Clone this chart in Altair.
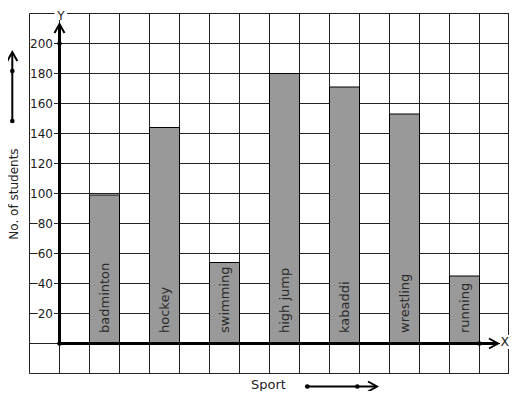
import altair as alt
import pandas as pd

# ---------------- data ----------------
sports = ["badminton", "hockey", "swimming", "high jump", "kabaddi", "wrestling", "running"]
students = [99, 144, 54, 180, 171, 153, 45]
y_ticks = [20, 40, 60, 80, 100, 120, 140, 160, 180, 200]
x_title = "Sport"
y_title = "No. of students"

# ---------------- geometry ----------------
W, H = 501, 383
COL = 30.0          # px per grid column
OX, OY = 51.5, 335.5  # origin in plot px
PPU = 1.5           # px per student
x_dom = [-OX / COL, (W - OX) / COL]
y_dom = [(OY - H) / PPU, OY / PPU]
xs = alt.Scale(domain=x_dom, nice=False, zero=False)
ys = alt.Scale(domain=y_dom, nice=False, zero=False)
FONT = "DejaVu Sans"


def X(f):
    return alt.X(f, type="quantitative", scale=xs, axis=None)


def Y(f):
    return alt.Y(f, type="quantitative", scale=ys, axis=None)


# grid
gv = pd.DataFrame({"u": list(range(-1, 15)), "v1": -20, "v2": 220})
gh = pd.DataFrame({"v": list(range(-20, 221, 20)), "u1": -1, "u2": 15})
grid_v = alt.Chart(gv).mark_rule(color="#222", strokeWidth=1).encode(x=X("u"), y=Y("v1"), y2="v2:Q")
grid_r = alt.Chart(pd.DataFrame({"u": [15], "v1": [-20], "v2": [220]})).mark_rule(
    color="#222", strokeWidth=1, xOffset=-1).encode(x=X("u"), y=Y("v1"), y2="v2:Q")
grid_h = alt.Chart(gh).mark_rule(color="#222", strokeWidth=1).encode(y=Y("v"), x=X("u1"), x2="u2:Q")

# bars
bd = pd.DataFrame({"sport": sports, "students": students})
bd["u"] = [1 + 2 * i for i in range(len(sports))]
bd["u2"] = bd["u"] + 1
bd["uc"] = bd["u"] + 0.5
bd["base"] = 0
bars = alt.Chart(bd).mark_rect(fill="#999999", stroke="#000", strokeWidth=1).encode(
    x=X("u"), x2="u2:Q", y=Y("students"), y2="base:Q")
bar_text = alt.Chart(bd).mark_text(angle=270, align="left", baseline="middle", fontSize=13,
                                   font=FONT, color="#2a2a2a").encode(
    x=X("uc"), y=alt.value(OY - 10.5), text="sport:N")

# y tick labels with white background
td = pd.DataFrame({"v": y_ticks})
td["label"] = td["v"].astype(str)
td["bx2"] = OX - 5.5
td["bx1"] = td["bx2"] - (7.4 * td["label"].str.len() + 1.5)
td["vlo"] = td["v"] - 2
td["vhi"] = td["v"] + 2
tick_bg = alt.Chart(td).mark_rect(fill="white").encode(
    x=alt.X("bx1:Q", scale=None, axis=None), x2="bx2:Q", y=Y("vlo"), y2="vhi:Q")
tick_txt = alt.Chart(td).mark_text(align="right", baseline="middle", fontSize=12, font=FONT,
                                   color="#1a1a1a").encode(
    x=alt.value(OX - 6.5), y=Y("v"), text="label:N")

# axes
x_end = (497 - 8 - OX) / COL
y_end = (OY - (25 - 8)) / PPU
ax = pd.DataFrame({"u": [0, 0], "v": [0, 0], "u2": [x_end, 0], "v2": [0, y_end]})
axes = alt.Chart(ax).mark_rule(color="black", strokeWidth=3).encode(
    x=X("u"), x2="u2:Q", y=Y("v"), y2="v2:Q")
dots = alt.Chart(pd.DataFrame({"u": [0, 0, 14], "v": [0, 200, 0]})).mark_circle(
    size=22, color="black", opacity=1).encode(x=X("u"), y=Y("v"))
UP = "M-1,1.8L0,0L1,1.8"
RIGHT = "M-1.8,-1L0,0L-1.8,1"
arr_up = alt.Chart(pd.DataFrame({"u": [0], "v": [(OY - (24 - 8)) / PPU]})).mark_point(
    shape=UP, size=100, filled=False, stroke="black", strokeWidth=2, opacity=1).encode(
    x=X("u"), y=Y("v"))
arr_right = alt.Chart(pd.DataFrame({"u": [(498 - 8 - OX) / COL], "v": [0]})).mark_point(
    shape=RIGHT, size=100, filled=False, stroke="black", strokeWidth=2, opacity=1).encode(
    x=X("u"), y=Y("v"))

# X / Y letters with white backgrounds
one = pd.DataFrame({"a": [0]})
y_bg = alt.Chart(one).mark_rect(fill="white").encode(
    x=alt.value(46.5), x2=alt.value(59), y=alt.value(0), y2=alt.value(12))
y_let = alt.Chart(one).mark_text(text="Y", fontSize=12, font=FONT, color="#222",
                                 align="center", baseline="middle").encode(
    x=alt.value(53), y=alt.value(7.5))
x_bg = alt.Chart(one).mark_rect(fill="white").encode(
    x=alt.value(492), x2=alt.value(501), y=alt.value(327), y2=alt.value(341))
x_let = alt.Chart(one).mark_text(text="X", fontSize=12.5, font=FONT, color="#222",
                                 align="center", baseline="middle").encode(
    x=alt.value(496.8), y=alt.value(334))

# side decorations
ylab = alt.Chart(one).mark_text(text=y_title, angle=270, fontSize=12, font=FONT, color="#222",
                                align="center", baseline="middle").encode(
    x=alt.value(6.3), y=alt.value(186))
ly_line = alt.Chart(one).mark_rule(color="black", strokeWidth=2).encode(
    x=alt.value(4.3), y=alt.value(113), y2=alt.value(45))
ly_dots = alt.Chart(pd.DataFrame({"p": [63, 113]})).mark_circle(size=22, color="black", opacity=1).encode(
    x=alt.value(4.3), y=alt.Y("p:Q", scale=None, axis=None))
ly_arr = alt.Chart(one).mark_point(shape=UP, size=100, filled=False, stroke="black",
                                   strokeWidth=2, opacity=1).encode(x=alt.value(4.3), y=alt.value(44))

BY = 378.5
xlab = alt.Chart(one).mark_text(text=x_title, fontSize=13, font=FONT, color="#222",
                                align="center", baseline="middle").encode(
    x=alt.value(260.5), y=alt.value(BY - 1.5))
bx_line = alt.Chart(one).mark_rule(color="black", strokeWidth=2).encode(
    x=alt.value(299.3), x2=alt.value(368), y=alt.value(BY))
bx_dots = alt.Chart(pd.DataFrame({"p": [299.3, 349.3]})).mark_circle(size=22, color="black", opacity=1).encode(
    x=alt.X("p:Q", scale=None, axis=None), y=alt.value(BY))
bx_arr = alt.Chart(one).mark_point(shape=RIGHT, size=100, filled=False, stroke="black",
                                   strokeWidth=2, opacity=1).encode(x=alt.value(369), y=alt.value(BY))

chart = alt.layer(
    grid_v, grid_r, grid_h, bars, bar_text, tick_bg, tick_txt, axes, dots, arr_up, arr_right,
    y_bg, y_let, x_bg, x_let, ylab, ly_line, ly_dots, ly_arr, xlab, bx_line, bx_dots, bx_arr
).properties(
    width=W, height=H, padding=0, autosize=alt.AutoSizeParams(type="none"),
    background="white"
).configure(font=FONT).configure_view(strokeWidth=0)

chart.save("out.html", embed_options={"renderer": "svg", "actions": False})
